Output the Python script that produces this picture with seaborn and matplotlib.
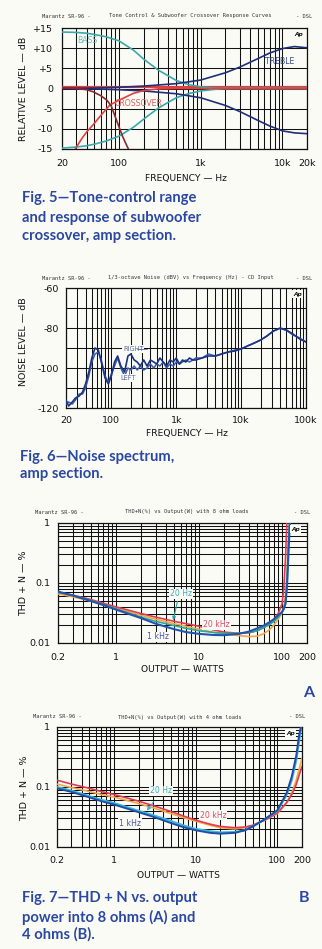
import numpy as np
import pandas as pd
import matplotlib
matplotlib.use("Agg")
import matplotlib.pyplot as plt
from matplotlib.ticker import FixedLocator, FixedFormatter, NullFormatter
import seaborn as sns

# ---------------- data ----------------
# Fig. 5: tone control and subwoofer crossover (frequency in Hz, level in dB)
bass_boost_f = [20, 30, 40, 50, 70, 100, 150, 200, 300, 500, 700, 1000, 1500, 2000, 20000]
bass_boost_db = [14.0, 13.9, 13.7, 13.4, 12.8, 11.8, 9.5, 7.3, 4.6, 2.0, 1.0, 0.4, 0.1, 0.0, 0.0]
bass_cut_f = [20, 30, 40, 50, 70, 100, 150, 200, 300, 500, 700, 1000, 1500, 2000, 20000]
bass_cut_db = [-14.8, -14.5, -14.2, -13.8, -13.0, -11.8, -9.6, -7.6, -4.9, -2.3, -1.3, -0.6, -0.2, 0.0, 0.0]
treble_f = [20, 50, 100, 200, 500, 1000, 2000, 3000, 5000, 7000, 10000, 14000, 20000]
treble_boost_db = [0.0, 0.1, 0.3, 0.6, 1.2, 2.1, 3.9, 5.3, 7.4, 8.8, 9.9, 10.4, 10.1]
treble_cut_db = [0.0, -0.1, -0.3, -0.6, -1.3, -2.3, -4.2, -5.7, -7.9, -9.3, -10.5, -11.0, -11.2]
flat_f = [20, 20000]
flat_db = [0.3, 0.3]
highpass_f = [29, 35, 40, 50, 58, 77, 100, 150, 200, 300, 500, 20000]
highpass_db = [-15.0, -12.4, -10.8, -8.6, -7.0, -4.1, -2.9, -1.2, -0.5, -0.1, 0.0, 0.0]
lowpass_f = [20, 30, 40, 48, 60, 71, 80, 96, 110, 122, 130]
lowpass_db = [0.2, 0.0, -0.3, -0.8, -1.8, -2.9, -4.3, -8.6, -11.8, -13.8, -15.0]

# Fig. 6: noise spectrum (frequency in Hz, level in dB)
noise_f = [20, 22, 25, 28, 32, 36, 40, 45, 50, 56, 63, 70, 80, 90, 100, 112, 125, 140,
           160, 180, 200, 225, 250, 280, 315, 355, 400, 450, 500, 560, 630, 710, 800, 900,
           1000, 1120, 1250, 1400, 1600, 1800, 2000, 2500, 3150, 4000, 5000, 6300, 8000,
           10000, 12500, 16000, 20000, 25000, 31500, 40000, 50000, 63000, 80000, 100000]
noise_right = [-116, -119, -117, -115, -114, -112, -108, -102, -95, -90, -91, -97, -105, -108,
               -104, -97, -94, -99, -102, -94, -93, -96, -97, -99, -96, -99, -96, -97, -98,
               -95, -97, -99, -96, -97, -95, -98, -96, -97, -95, -96, -96, -95, -94, -94,
               -93, -92, -91.5, -90.5, -89, -87.5, -86, -84, -81.5, -80, -81, -83, -85.5, -87]
noise_left = [-118, -117, -118, -116, -113, -113, -110, -104, -97, -93, -92, -96, -104, -107,
              -103, -99, -95, -100, -104, -100, -101, -99, -101, -99, -101, -100, -98, -100,
              -98, -99, -97, -100, -98, -99, -97, -98, -97, -96, -97, -96, -95, -95, -93,
              -94, -93, -92, -91, -90.5, -89, -87.5, -86, -84, -81.5, -80.2, -81.2, -83.5,
              -85, -87]

# Fig. 7A: THD+N into 8 ohms (output in W, THD+N in %)
a_p = [0.2, 0.3, 0.5, 0.7, 1, 2, 3, 5, 7, 10, 15, 20, 30, 40, 50, 60, 70, 80, 90, 100, 105, 110, 115, 120, 125]
a_20khz = [0.070, 0.063, 0.053, 0.046, 0.040, 0.031, 0.027, 0.023, 0.021, 0.019, 0.0165, 0.0152,
           0.0145, 0.0148, 0.016, 0.018, 0.021, 0.025, 0.031, 0.045, 0.08, 0.25, 1.2, 1.2, 1.2]
a_20khz_b = [0.066, 0.059, 0.050, 0.044, 0.038, 0.029, 0.025, 0.021, 0.019, 0.017, 0.015, 0.0142,
             0.0133, 0.0128, 0.013, 0.0142, 0.0165, 0.02, 0.025, 0.032, 0.04, 0.06, 0.15, 0.6, 1.2]
a_20hz = [0.070, 0.062, 0.051, 0.044, 0.037, 0.027, 0.023, 0.0195, 0.0175, 0.016, 0.015, 0.0145,
          0.0145, 0.015, 0.016, 0.018, 0.02, 0.023, 0.027, 0.032, 0.037, 0.045, 0.1, 0.5, 1.2]
a_1khz = [0.072, 0.062, 0.050, 0.043, 0.036, 0.026, 0.021, 0.017, 0.0152, 0.0142, 0.0136, 0.0135,
          0.0142, 0.0155, 0.0175, 0.0195, 0.022, 0.025, 0.029, 0.033, 0.037, 0.045, 0.09, 0.35, 1.2]

# Fig. 7B: THD+N into 4 ohms (output in W, THD+N in %)
b_p = [0.2, 0.3, 0.5, 0.7, 1, 2, 3, 5, 7, 10, 15, 20, 30, 40, 50, 70, 100, 130, 150, 170, 185, 200]
b_20khz = [0.130, 0.112, 0.095, 0.084, 0.075, 0.058, 0.049, 0.039, 0.033, 0.028, 0.024, 0.022,
           0.021, 0.0215, 0.023, 0.028, 0.037, 0.055, 0.075, 0.11, 0.16, 0.22]
b_20khz_b = [0.112, 0.098, 0.084, 0.075, 0.068, 0.053, 0.045, 0.036, 0.031, 0.027, 0.023, 0.021,
             0.020, 0.021, 0.023, 0.028, 0.036, 0.055, 0.08, 0.13, 0.2, 0.3]
b_20hz = [0.100, 0.087, 0.070, 0.061, 0.054, 0.040, 0.034, 0.027, 0.023, 0.020, 0.0183, 0.0175,
          0.0178, 0.019, 0.022, 0.029, 0.040, 0.075, 0.13, 0.28, 0.6, 1.2]
b_1khz = [0.095, 0.083, 0.067, 0.058, 0.051, 0.038, 0.032, 0.025, 0.0215, 0.019, 0.0172, 0.0167,
          0.0172, 0.019, 0.022, 0.029, 0.041, 0.08, 0.15, 0.33, 0.75, 1.2]

# tick labels
f5_xticks = [20, 100, 1000, 10000, 20000]
f5_xlabels = ["20", "100", "1k", "10k", "20k"]
f5_yticks = [-15, -10, -5, 0, 5, 10, 15]
f5_ylabels = ["-15", "-10", "-5", "0", "+5", "+10", "+15"]
f6_xticks = [20, 100, 1000, 10000, 100000]
f6_xlabels = ["20", "100", "1k", "10k", "100k"]
f6_yticks = [-120, -100, -80, -60]
f6_ylabels = ["-120", "-100", "-80", "-60"]
f7_xticks = [0.2, 1, 10, 100, 200]
f7_xlabels = ["0.2", "1", "10", "100", "200"]
f7_yticks = [0.01, 0.1, 1]
f7_ylabels = ["0.01", "0.1", "1"]

# ---------------- styling ----------------
sns.set_theme(style="white")
plt.rcParams["font.family"] = ["DejaVu Sans"]
PAPER = "#fbfbf6"
CAP = "#2a48a2"
NAVY = "#1f2f78"
TEAL = "#3aa9ab"
RED = "#e0413f"
MAROON = "#8a2a30"

W, H = 322, 949
fig = plt.figure(figsize=(W / 100, H / 100), dpi=100, facecolor=PAPER)


def px_rect(x0, y0, x1, y1):
    return [x0 / W, 1 - y1 / H, (x1 - x0) / W, (y1 - y0) / H]


def ftext(x, y, s, **kw):
    fig.text(x / W, 1 - y / H, s, **kw)


def log_grid(lo, hi):
    vals = []
    dec = 10.0 ** np.floor(np.log10(lo))
    while dec <= hi:
        for m in range(1, 10):
            v = m * dec
            if lo - 1e-9 <= v <= hi + 1e-9:
                vals.append(v)
        dec *= 10
    return vals


def frame(ax, xlim, ylim, xticks, xlabels, yticks, ylabels, xgrid, ygrid, logy=False,
          xpad=7.0, ypad=5.0):
    ax.set_facecolor(PAPER)
    ax.set_xscale("log")
    if logy:
        ax.set_yscale("log")
    ax.set_xlim(*xlim)
    ax.set_ylim(*ylim)
    ax.xaxis.set_major_locator(FixedLocator(xticks))
    ax.xaxis.set_major_formatter(FixedFormatter(xlabels))
    ax.xaxis.set_minor_locator(FixedLocator(xgrid))
    ax.xaxis.set_minor_formatter(NullFormatter())
    ax.yaxis.set_major_locator(FixedLocator(yticks))
    ax.yaxis.set_major_formatter(FixedFormatter(ylabels))
    ax.yaxis.set_minor_locator(FixedLocator(ygrid))
    ax.yaxis.set_minor_formatter(NullFormatter())
    ax.grid(which="both", color="#111111", lw=0.75)
    ax.tick_params(which="both", length=0, labelsize=6.8, colors="#111111")
    ax.tick_params(axis="x", pad=xpad)
    ax.tick_params(axis="y", pad=ypad)
    for s in ax.spines.values():
        s.set_color("#111111")
        s.set_linewidth(0.9)
    ax.set_axisbelow(True)


def ap_logo(ax, x, y):
    ax.text(x, y, "Ap", transform=ax.transAxes, fontsize=4.2, fontweight="bold",
            style="italic", ha="center", va="center", color="#111111",
            bbox=dict(fc=PAPER, ec="none", pad=0.8), zorder=5)


def header(y, left_x, mid_x, right_x, mid):
    kw = dict(fontsize=3.9, color="#333333", va="center", family="DejaVu Sans Mono")
    ftext(left_x, y, "Marantz SR-96 -", ha="left", **kw)
    ftext(mid_x, y, mid, ha="center", **kw)
    ftext(right_x, y, "- DSL", ha="right", **kw)


def curve(ax, x, y, color, lw=1.2, z=3):
    sns.lineplot(x=x, y=y, ax=ax, color=color, lw=lw, estimator=None, sort=False,
                 zorder=z)


# ---------------- Fig. 5 ----------------
ax1 = fig.add_axes(px_rect(62, 28, 307, 149))
frame(ax1, (20, 20000), (-15, 15), f5_xticks, f5_xlabels, f5_yticks, f5_ylabels,
      log_grid(20, 20000), f5_yticks, xpad=7.5, ypad=6.5)
curve(ax1, flat_f, flat_db, RED, lw=1.6)
curve(ax1, bass_boost_f, bass_boost_db, TEAL)
curve(ax1, bass_cut_f, bass_cut_db, TEAL)
curve(ax1, treble_f, treble_boost_db, NAVY)
curve(ax1, treble_f, treble_cut_db, NAVY)
curve(ax1, highpass_f, highpass_db, RED)
curve(ax1, lowpass_f, lowpass_db, MAROON)
ax1.text(30.5, 11.8, "BASS", color="#6fb9b8", fontsize=5.6, va="center", ha="left")
ax1.text(6100, 6.8, "TREBLE", color="#3a4a8c", fontsize=5.6, va="center", ha="left")
ax1.text(89, -3.6, "CROSSOVER", color="#e05a5a", fontsize=5.6, va="center", ha="left")
ap_logo(ax1, 0.965, 0.95)
ax1.set_xlabel("FREQUENCY — Hz", fontsize=6.6, color="#111111")
ax1.xaxis.set_label_coords((186 - 62) / 245, -(178 - 149) / 121)
ax1.xaxis.label.set_va("center")
ax1.set_ylabel("RELATIVE LEVEL — dB", fontsize=6.8, color="#111111")
ax1.yaxis.set_label_coords(-(62 - 23.5) / 245, (149 - 89) / 121)
ax1.yaxis.label.set_va("center")
header(16, 42, 190, 312, "Tone Control & Subwoofer Crossover Response Curves")

# ---------------- Fig. 6 ----------------
ax2 = fig.add_axes(px_rect(66, 288, 306, 408))
frame(ax2, (20, 100000), (-120, -60), f6_xticks, f6_xlabels, f6_yticks, f6_ylabels,
      log_grid(20, 100000), [-120, -110, -100, -90, -80, -70, -60], xpad=5.5, ypad=5.0)
curve(ax2, noise_f, noise_left, "#3b5cae", lw=1.1)
curve(ax2, noise_f, noise_right, "#1c3384", lw=1.2)
ax2.text(151, -90.5, "RIGHT", color="#5a6aa0", fontsize=4.8, va="center", ha="left",
         bbox=dict(fc=PAPER, ec="none", pad=0.5), zorder=4)
ax2.plot([250, 360], [-90.5, -90.5], color="#5a6aa0", lw=0.6, zorder=4)
ax2.text(136, -105, "LEFT", color="#5a6aa0", fontsize=4.8, va="center", ha="left",
         bbox=dict(fc=PAPER, ec="none", pad=0.5), zorder=4)
ax2.plot([190, 190], [-103.2, -100.5], color="#5a6aa0", lw=0.6, zorder=4)
ap_logo(ax2, 0.965, 0.95)
ax2.set_xlabel("FREQUENCY — Hz", fontsize=6.6, color="#111111")
ax2.xaxis.set_label_coords((187 - 66) / 240, -(433 - 408) / 120)
ax2.xaxis.label.set_va("center")
ax2.set_ylabel("NOISE LEVEL — dB", fontsize=6.8, color="#111111")
ax2.yaxis.set_label_coords(-(66 - 23.5) / 240, (408 - 342) / 120)
ax2.yaxis.label.set_va("center")
header(278, 42, 191, 312, "1/3-octave Noise (dBV) vs Frequency (Hz) - CD Input")

# ---------------- Fig. 7A ----------------
ax3 = fig.add_axes(px_rect(58, 523, 307, 643))
frame(ax3, (0.2, 200), (0.01, 1), f7_xticks, f7_xlabels, f7_yticks, f7_ylabels,
      log_grid(0.2, 200), log_grid(0.01, 1), logy=True, xpad=7.0, ypad=5.5)
curve(ax3, a_p, a_20khz_b, "#f0a848", lw=1.2)
curve(ax3, a_p, a_20khz, "#e23a52", lw=1.2)
curve(ax3, a_p, a_20hz, "#2aa898", lw=1.2)
curve(ax3, a_p, a_1khz, "#1f55b0", lw=1.5)
ax3.text(6.0, 0.0656, "20 Hz", color="#3ab0b8", fontsize=5.6, ha="center", va="center",
         bbox=dict(fc=PAPER, ec="none", pad=0.6), zorder=4)
ax3.text(16.2, 0.020, "20 kHz", color="#e04a6a", fontsize=5.6, ha="center", va="center",
         bbox=dict(fc=PAPER, ec="none", pad=0.6), zorder=4)
ax3.text(3.17, 0.0126, "1 kHz", color="#4a55a8", fontsize=5.6, ha="center", va="center",
         bbox=dict(fc=PAPER, ec="none", pad=0.6), zorder=4)
ax3.annotate("", xy=(4.8, 0.0215), xytext=(5.6, 0.055),
             arrowprops=dict(arrowstyle="-|>", color="#2aa898", lw=0.8, mutation_scale=5))
ap_logo(ax3, 0.955, 0.95)
ax3.set_xlabel("OUTPUT — WATTS", fontsize=6.6, color="#111111")
ax3.xaxis.set_label_coords((182 - 58) / 249, -(670 - 643) / 120)
ax3.xaxis.label.set_va("center")
ax3.set_ylabel("THD + N — %", fontsize=6.8, color="#111111")
ax3.yaxis.set_label_coords(-(58 - 23.5) / 249, (643 - 583) / 120)
ax3.yaxis.label.set_va("center")
header(512, 35, 187, 310, "THD+N(%) vs Output(W) with 8 ohm loads")

# ---------------- Fig. 7B ----------------
ax4 = fig.add_axes(px_rect(57, 727, 302, 847))
frame(ax4, (0.2, 200), (0.01, 1), f7_xticks, f7_xlabels, f7_yticks, f7_ylabels,
      log_grid(0.2, 200), log_grid(0.01, 1), logy=True, xpad=6.5, ypad=5.0)
curve(ax4, b_p, b_20khz_b, "#f0a848", lw=1.2)
curve(ax4, b_p, b_20khz, "#e23a52", lw=1.2)
curve(ax4, b_p, b_20hz, "#3ab8d8", lw=1.5)
curve(ax4, b_p, b_1khz, "#1f4ca8", lw=1.4)
ax4.text(3.75, 0.0858, "20 Hz", color="#3ab0b8", fontsize=5.6, ha="center", va="center",
         bbox=dict(fc=PAPER, ec="none", pad=0.6), zorder=4)
ax4.text(16.3, 0.0341, "20 kHz", color="#e04a6a", fontsize=5.6, ha="center", va="center",
         bbox=dict(fc=PAPER, ec="none", pad=0.6), zorder=4)
ax4.text(1.57, 0.0251, "1 kHz", color="#4a55a8", fontsize=5.6, ha="center", va="center",
         bbox=dict(fc=PAPER, ec="none", pad=0.6), zorder=4)
ax4.annotate("", xy=(2.4, 0.037), xytext=(3.2, 0.062),
             arrowprops=dict(arrowstyle="-|>", color="#3ab8d8", lw=0.8, mutation_scale=5))
ap_logo(ax4, 0.955, 0.95)
ax4.set_xlabel("OUTPUT — WATTS", fontsize=6.6, color="#111111")
ax4.xaxis.set_label_coords((178 - 57) / 245, -(875 - 847) / 120)
ax4.xaxis.label.set_va("center")
ax4.set_ylabel("THD + N — %", fontsize=6.8, color="#111111")
ax4.yaxis.set_label_coords(-(57 - 25) / 245, (847 - 788) / 120)
ax4.yaxis.label.set_va("center")
header(717, 33, 180, 305, "THD+N(%) vs Output(W) with 4 ohm loads")

# ---------------- captions ----------------
cap = dict(color=CAP, fontsize=10.6, fontweight="bold", family=["Lato", "DejaVu Sans"],
           ha="left", va="center")
ftext(22, 198, "Fig. 5—Tone-control range", **cap)
ftext(22, 218, "and response of subwoofer", **cap)
ftext(22, 236, "crossover, amp section.", **cap)
ftext(20, 457, "Fig. 6—Noise spectrum,", **cap)
ftext(20, 474, "amp section.", **cap)
ftext(22, 898, "Fig. 7—THD + N vs. output", **cap)
ftext(22, 917, "power into 8 ohms (A) and", **cap)
ftext(22, 934, "4 ohms (B).", **cap)
ftext(309, 693, "A", **dict(cap, ha="center", fontsize=11.5))
ftext(304, 898, "B", **dict(cap, ha="center", fontsize=11.5))

fig.savefig("out.png", dpi=100, facecolor=PAPER)
